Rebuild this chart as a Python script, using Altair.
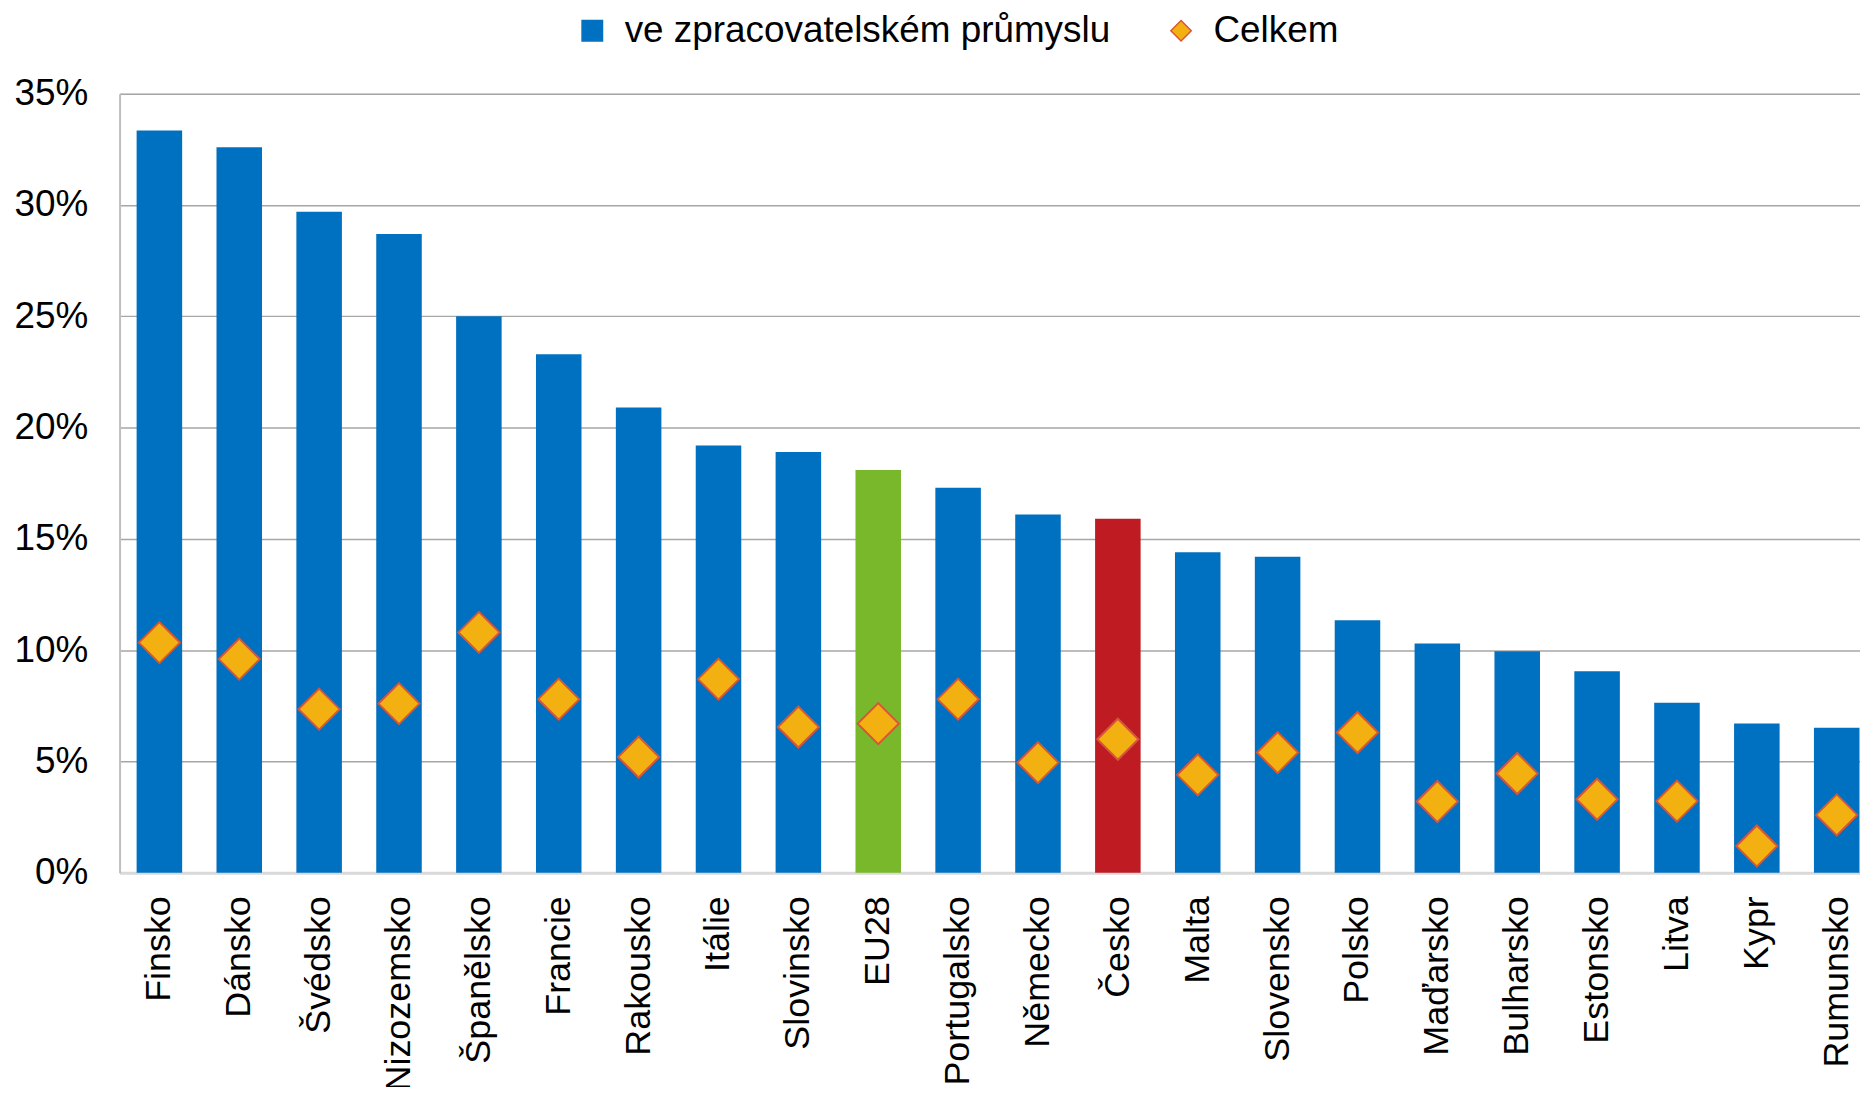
import altair as alt
import pandas as pd

countries = ["Finsko", "Dánsko", "Švédsko", "Nizozemsko", "Španělsko", "Francie",
             "Rakousko", "Itálie", "Slovinsko", "EU28", "Portugalsko", "Německo",
             "Česko", "Malta", "Slovensko", "Polsko", "Maďarsko", "Bulharsko",
             "Estonsko", "Litva", "Kypr", "Rumunsko"]
manufacturing = [33.35, 32.6, 29.7, 28.7, 25.0, 23.3, 20.9, 19.2, 18.9, 18.1, 17.3,
                 16.1, 15.9, 14.4, 14.2, 11.35, 10.3, 9.95, 9.05, 7.64, 6.71, 6.51]
total = [10.34, 9.6, 7.35, 7.6, 10.8, 7.8, 5.2, 8.7, 6.55, 6.7, 7.8,
         4.95, 6.0, 4.4, 5.4, 6.3, 3.2, 4.46, 3.3, 3.22, 1.2, 2.6]
groups = ["země"] * 9 + ["EU"] + ["země"] * 2 + ["ČR"] + ["země"] * 9
series_names = ["ve zpracovatelském průmyslu", "Celkem"]
y_ticks = [0, 5, 10, 15, 20, 25, 30, 35]

FONT = "Liberation Sans"
FS = 37
FSX = 36
BLUE = "#0070C0"
GREEN = "#78B82A"
RED = "#BE1B22"
GOLD = "#F2B111"
DIAMOND_STROKE = "#D5563A"

df = pd.DataFrame({
    "country": countries,
    "manufacturing": manufacturing,
    "total": total,
    "group": groups,
    "series": series_names[1],
})

x_enc = alt.X(
    "country:N", sort=countries,
    scale=alt.Scale(paddingInner=0.43, paddingOuter=0.11, align=0.97),
    axis=alt.Axis(title=None, labelAngle=-90, ticks=False, labelPadding=23,
                  labelFontSize=FSX, labelFont=FONT, labelColor="#000000",
                  labelLimit=400, domainColor="#D9D9D9", domainWidth=3, grid=False),
)

y_scale = alt.Scale(domain=[0, 35], nice=False, zero=True)

bars = alt.Chart(df).mark_bar().encode(
    x=x_enc,
    y=alt.Y("manufacturing:Q", scale=y_scale,
            axis=alt.Axis(title=None, values=y_ticks, labelExpr="datum.value + '%'",
                          ticks=False, labelPadding=32, labelFontSize=FS, labelFont=FONT,
                          labelColor="#000000", grid=True, gridColor="#A6A6A6",
                          gridWidth=1.5, domainColor="#BFBFBF", domainWidth=2)),
    fill=alt.Fill("group:N",
                  scale=alt.Scale(domain=["země", "EU", "ČR"], range=[BLUE, GREEN, RED]),
                  legend=None),
)

legend = alt.Legend(title=None, orient="none", legendX=456, legendY=-82,
                    direction="horizontal", labelFontSize=FS, labelFont=FONT,
                    labelColor="#000000", symbolSize=420, symbolStrokeWidth=1.5,
                    columnPadding=52, labelOffset=14, labelLimit=800)

points = alt.Chart(df).mark_point(filled=True, size=1700, opacity=1, strokeWidth=2).encode(
    x=alt.X("country:N", sort=countries),
    y=alt.Y("total:Q", scale=y_scale),
    color=alt.Color("series:N", scale=alt.Scale(domain=series_names, range=[BLUE, GOLD]),
                    legend=legend),
    shape=alt.Shape("series:N", scale=alt.Scale(domain=series_names, range=["square", "diamond"]),
                    legend=legend),
    stroke=alt.Stroke("series:N", scale=alt.Scale(domain=series_names, range=[BLUE, DIAMOND_STROKE]),
                      legend=legend),
)

chart = alt.layer(bars, points).properties(
    width=1747, height=782,
    autosize=alt.AutoSizeParams(type="none"),
    padding={"left": 112, "top": 84, "right": 0, "bottom": 213},
).configure_view(stroke=None).configure(font=FONT)

chart.save("out.html", embed_options={"renderer": "svg", "actions": False})
